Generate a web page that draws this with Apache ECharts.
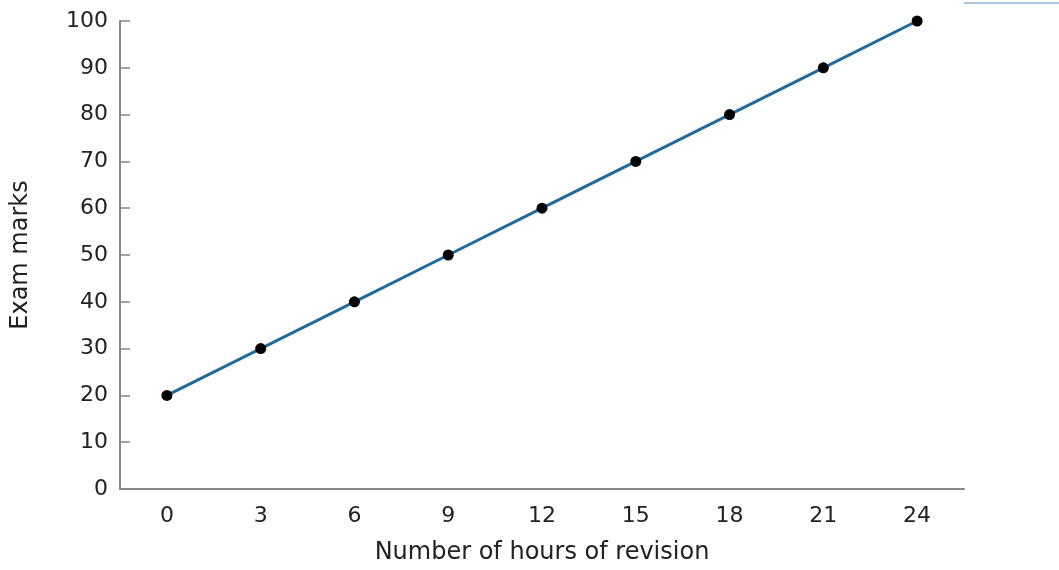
<!DOCTYPE html>
<html>
<head>
<meta charset="utf-8">
<script src="https://cdn.jsdelivr.net/npm/echarts@6/dist/echarts.min.js"></script>
<style>html,body{margin:0;padding:0;background:#fff}#c{width:1059px;height:570px}</style>
</head>
<body>
<div id="c"></div>
<script>
const hours = ['0','3','6','9','12','15','18','21','24'];
const marks = [20,30,40,50,60,70,80,90,100];
const yTicks = {min:0, max:100, interval:10};

const chart = echarts.init(document.getElementById('c'));
const font = 'DejaVu Sans, sans-serif';
chart.setOption({
  animation:false,
  graphic:[{type:'line',shape:{x1:964,y1:3,x2:1059,y2:3},style:{stroke:'#8fb3d9',lineWidth:1.5}}],
  grid:{left:120,right:95,top:21,bottom:80},
  xAxis:{
    type:'category', data:hours, boundaryGap:true,
    name:'Number of hours of revision', nameLocation:'middle', nameGap:52,
    nameTextStyle:{fontSize:24,color:'#222',fontFamily:font},
    axisLine:{lineStyle:{color:'#888',width:2}},
    axisTick:{inside:true,alignWithLabel:true,length:10,lineStyle:{color:'#888',width:1.5}},
    axisLabel:{margin:16,fontSize:22,color:'#222',fontFamily:font},
    splitLine:{show:false}
  },
  yAxis:{
    type:'value', min:yTicks.min, max:yTicks.max, interval:yTicks.interval,
    name:'Exam marks', nameLocation:'middle', nameGap:87, nameRotate:90,
    nameTextStyle:{fontSize:24,color:'#222',fontFamily:font},
    axisLine:{show:true,lineStyle:{color:'#888',width:2}},
    axisTick:{show:true,inside:true,length:10,lineStyle:{color:'#888',width:1.5}},
    axisLabel:{margin:12,fontSize:22,color:'#222',fontFamily:font},
    splitLine:{show:false}
  },
  series:[{
    type:'line', data:marks,
    lineStyle:{color:'#1f6b9c',width:3},
    itemStyle:{color:'#000'},
    symbol:'circle', symbolSize:11, showSymbol:true
  }]
});
</script>
</body>
</html>
